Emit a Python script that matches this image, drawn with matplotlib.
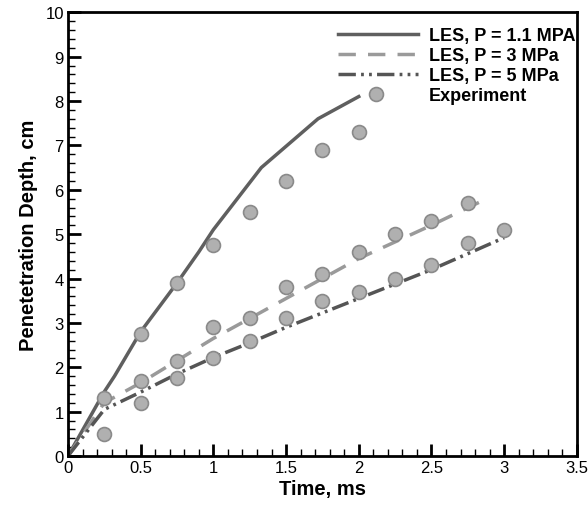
import matplotlib
matplotlib.use('Agg')
import matplotlib.pyplot as plt
from matplotlib.ticker import MultipleLocator

plt.rcParams['font.family'] = ['Liberation Sans', 'DejaVu Sans']

# LES curves
les11_t = [0, 0.25, 0.32, 0.5, 0.75, 0.9, 1.0, 1.33, 1.72, 2.0]
les11_d = [0, 1.45, 1.8, 2.8, 3.9, 4.6, 5.1, 6.5, 7.6, 8.1]

les3_t = [0, 0.25, 0.5, 0.75, 1.0, 1.5, 2.0, 2.5, 2.83]
les3_d = [0, 1.2, 1.65, 2.15, 2.65, 3.55, 4.45, 5.2, 5.72]

les5_t = [0, 0.25, 0.5, 0.75, 1.0, 1.25, 1.5, 2.0, 2.5, 3.0]
les5_d = [0, 1.05, 1.44, 1.85, 2.22, 2.55, 2.9, 3.55, 4.2, 4.92]

# experiments
exp11_t = [0.25, 0.5, 0.75, 1.0, 1.25, 1.5, 1.75, 2.0, 2.12]
exp11_d = [1.3, 2.75, 3.9, 4.75, 5.5, 6.2, 6.9, 7.3, 8.15]

exp3_t = [0.5, 0.75, 1.0, 1.25, 1.5, 1.75, 2.0, 2.25, 2.5, 2.75]
exp3_d = [1.7, 2.15, 2.9, 3.1, 3.8, 4.1, 4.6, 5.0, 5.3, 5.7]

exp5_t = [0.25, 0.5, 0.75, 1.0, 1.25, 1.5, 1.75, 2.0, 2.25, 2.5, 2.75, 3.0]
exp5_d = [0.5, 1.2, 1.75, 2.2, 2.6, 3.1, 3.5, 3.7, 4.0, 4.3, 4.8, 5.1]

xticks = [0, 0.5, 1, 1.5, 2, 2.5, 3, 3.5]
xticklabels = ['0', '0.5', '1', '1.5', '2', '2.5', '3', '3.5']

fig = plt.figure(figsize=(5.88, 5.06), dpi=100)
ax = fig.add_axes([0.1156, 0.0968, 0.8654, 0.877])

ax.plot(les11_t, les11_d, color='#5f5f5f', lw=2.5, label='LES, P = 1.1 MPA')
ax.plot(les3_t, les3_d, color='#9a9a9a', lw=2.5, dashes=(5, 3.5), label='LES, P = 3 MPa')
ax.plot(les5_t, les5_d, color='#555555', lw=2.5,
        dashes=(5, 1.5, 0.8, 1.5, 0.8, 1.5), label='LES, P = 5 MPa')

mk = dict(ls='none', marker='o', ms=10, mfc='#b0b0b0', mec='#8a8a8a', mew=1.2)
ax.plot(exp11_t, exp11_d, label='Experiment', **mk)
ax.plot(exp3_t, exp3_d, **mk)
ax.plot(exp5_t, exp5_d, **mk)

ax.set_xlim(0, 3.5)
ax.set_ylim(0, 10)
ax.set_xticks(xticks)
ax.set_xticklabels(xticklabels)
ax.xaxis.set_minor_locator(MultipleLocator(0.1))
ax.yaxis.set_major_locator(MultipleLocator(1))
ax.yaxis.set_minor_locator(MultipleLocator(0.2))
ax.tick_params(which='major', direction='in', length=9, width=2, labelsize=12,
               top=False, right=False, pad=3)
ax.tick_params(which='minor', direction='in', length=5, width=1,
               top=False, right=False)
for s in ax.spines.values():
    s.set_linewidth(2)

ax.set_xlabel('Time, ms', fontsize=14.5, fontweight='bold', labelpad=3)
ax.set_ylabel('Penetetration Depth, cm', fontsize=14.5, fontweight='bold', labelpad=5)

leg = ax.legend(loc='upper right', bbox_to_anchor=(1.0, 0.97), frameon=False,
                handlelength=4.4, prop={'weight': 'bold', 'size': 13},
                labelspacing=0.16, borderaxespad=0.0, handletextpad=0.6,
                borderpad=0.1)
leg.legend_handles[3].set_visible(False)

fig.savefig('out.png', dpi=100)
